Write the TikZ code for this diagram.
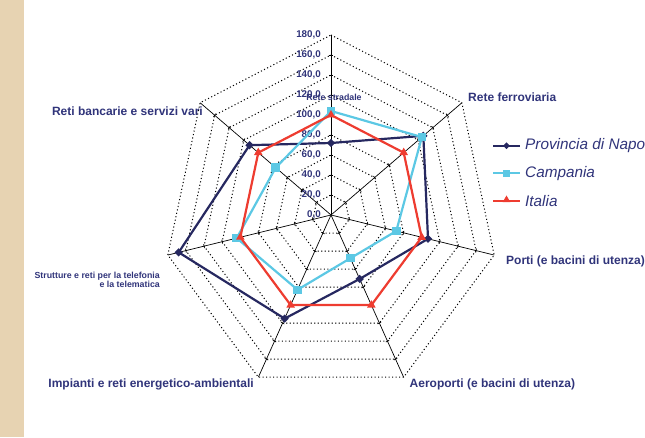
\documentclass[tikz,border=0pt]{standalone}
\usepackage{fontspec}
\setmainfont{Liberation Sans}
\usetikzlibrary{shapes.geometric}
\definecolor{sidebeige}{RGB}{231,211,178}
\definecolor{napnavy}{RGB}{38,40,96}
\definecolor{camcyan}{RGB}{92,200,228}
\definecolor{itared}{RGB}{238,60,48}
\definecolor{labnavy}{RGB}{48,52,122}
\tikzset{
  gridring/.style={black, line width=1pt, dash pattern=on 1.1pt off 2.4pt},
  axisline/.style={black, line width=0.7pt},
  axislabel/.style={text=labnavy, inner sep=0pt, font=\fontsize{12}{13}\selectfont\bfseries},
  smalllabel/.style={text=labnavy, inner sep=0pt, font=\fontsize{8.8}{9}\selectfont\bfseries},
  ticklabel/.style={text=labnavy, inner sep=0pt, anchor=east, font=\fontsize{9.8}{10}\selectfont\bfseries},
  legtext/.style={text=labnavy, inner sep=0pt, anchor=west, font=\fontsize{15.3}{16}\selectfont\itshape},
  napline/.style={napnavy, line width=2.2pt, line join=miter},
  camline/.style={camcyan, line width=2.2pt, line join=miter},
  italine/.style={itared, line width=2.2pt, line join=miter},
  napmark/.style={diamond, fill=napnavy, inner sep=0pt, minimum size=8.5pt},
  cammark/.style={rectangle, fill=camcyan, inner sep=0pt, minimum size=8.5pt},
  itamark/.style={regular polygon, regular polygon sides=3, fill=itared, inner sep=0pt, minimum size=10pt},
}
\begin{document}
\begin{tikzpicture}[x=1pt, y=1pt]
        \def\angstep{51.42857}
        \def\ringmax{180}

        \useasboundingbox (0,0) rectangle (645,437);
        \clip (0,0) rectangle (645,437);
        \fill[sidebeige] (0,0) rectangle (24,437);

        % radar grid
        \begin{scope}[shift={(331,222)}, xscale=0.93]
            \foreach \r in {20,40,...,180}
                \draw[gridring] (90:\r) \foreach \k in {1,...,6} {-- (90-\k*\angstep:\r)} -- cycle;
            \foreach \k in {0,...,6} {
                \begin{scope}[rotate=90-\k*\angstep]
                    \draw[axisline] (0,0) -- (\ringmax,0);
                    \foreach \r in {20,40,...,160}
                        \draw[axisline] (\r,-2) -- (\r,2);
                \end{scope}
            }
            % data points
            \foreach \v [count=\k from 0] in {72,127,107,71,115,168,112}
                \coordinate (nap\k) at (90-\k*\angstep:\v);
            \foreach \v [count=\k from 0] in {104,125,72,48,83,104,76}
                \coordinate (cam\k) at (90-\k*\angstep:\v);
            \foreach \v [count=\k from 0] in {100,100,100,100,100,100,100}
                \coordinate (ita\k) at (90-\k*\angstep:\v);
        \end{scope}

        % scale values
        \foreach \v in {0,20,...,180}
            \node[ticklabel] (tick\v) at (321,222+\v) {\v,0};

        % series
        \draw[napline] (nap0) -- (nap1) -- (nap2) -- (nap3) -- (nap4) -- (nap5) -- (nap6) -- cycle;
        \foreach \k in {0,...,6} \node[napmark] (napm\k) at (nap\k) {};
        \draw[camline] (cam0) -- (cam1) -- (cam2) -- (cam3) -- (cam4) -- (cam5) -- (cam6) -- cycle;
        \foreach \k in {0,...,6} \node[cammark] (camm\k) at (cam\k) {};
        \draw[italine] (ita0) -- (ita1) -- (ita2) -- (ita3) -- (ita4) -- (ita5) -- (ita6) -- cycle;
        \foreach \k in {0,...,6} \node[itamark] (itam\k) at (ita\k) {};

        % axis labels
        \node[smalllabel] (stradale) at (334,340) {Rete stradale};
        \node[axislabel, anchor=west] (ferrovia) at (468,339.7) {Rete ferroviaria};
        \node[axislabel, anchor=west] (porti) at (506,176) {Porti (e bacini di utenza)};
        \node[axislabel, anchor=west] (aeroporti) at (409.5,53) {Aeroporti (e bacini di utenza)};
        \node[axislabel, anchor=east] (impianti) at (254,53) {Impianti e reti energetico-ambientali};
        \node[smalllabel, anchor=east, align=right] (telefonia) at (160,157) {Strutture e reti per la telefonia\\e la telematica};
        \node[axislabel, anchor=east] (bancarie) at (203,325.3) {Reti bancarie e servizi vari};

        % legend
        \coordinate (legnapa) at (493,291.3);
        \coordinate (legnapb) at (520,291.3);
        \coordinate (legcama) at (493,263.7);
        \coordinate (legcamb) at (520,263.7);
        \coordinate (legitaa) at (493,236.3);
        \coordinate (legitab) at (520,236.3);
        \draw[napline] (legnapa) -- (legnapb);
        \node[napmark, minimum size=7pt] (legnapm) at (506.5,291.3) {};
        \node[legtext] (legnap) at (525,291.3) {Provincia di Napoli};
        \draw[camline] (legcama) -- (legcamb);
        \node[cammark, minimum size=7.5pt] (legcamm) at (506.5,263.7) {};
        \node[legtext] (legcam) at (525,263.7) {Campania};
        \draw[italine] (legitaa) -- (legitab);
        \node[itamark, minimum size=9pt] (legitam) at (506.5,237) {};
        \node[legtext] (legita) at (525,236.3) {Italia};
    \end{tikzpicture}
\end{document}
